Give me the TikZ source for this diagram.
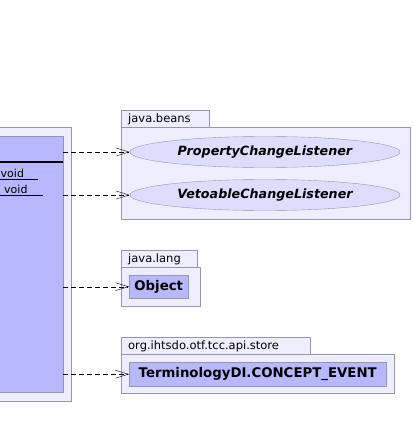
\documentclass[tikz,border=0pt]{standalone}
\usepackage{fontspec}
\setmainfont{DejaVu Sans}
\usepackage{tikz}
\usetikzlibrary{arrows.meta,positioning,shapes.geometric}
\definecolor{pkgfill}{RGB}{238,238,255}
\definecolor{clsfill}{RGB}{184,184,255}
\definecolor{ifcfill}{RGB}{221,221,255}
\definecolor{umlline}{RGB}{150,150,170}
\tikzset{
  pkgbody/.style={
    rectangle,
    draw=umlline,
    fill=pkgfill,
    anchor=north west,
    inner sep=0pt
  },
  pkgtab/.style={
    pkgbody,
    anchor=south west,
    minimum height=17,
    align=left,
    font=\fontsize{11.5}{13}\selectfont,
    text depth=0pt
  },
  umlclass/.style={
    rectangle,
    draw=umlline,
    fill=clsfill,
    inner sep=0pt,
    font=\bfseries\fontsize{13.3}{15}\selectfont
  },
  umliface/.style={
    ellipse,
    draw=umlline,
    fill=ifcfill,
    minimum width=270,
    minimum height=31,
    inner sep=0pt,
    font=\bfseries\itshape\fontsize{12.7}{14}\selectfont
  },
  member/.style={
    anchor=base west,
    inner sep=0pt,
    font=\fontsize{11}{13}\selectfont
  },
  depends/.style={
    dashed,
    dash pattern=on 5pt off 3pt,
    -{Straight Barb[length=13pt,width=8pt]}
  }
}

\begin{document}
\begin{tikzpicture}[x=1pt,y=-1pt]
  % page size of the reference
  \useasboundingbox (0,0) rectangle (413,439);

  % class, cut off at the left border
  \node[pkgbody, minimum width=91, minimum height=274] (clsframe) at (-20,127) {};
  \node[umlclass, anchor=north west, minimum width=83, minimum height=256] (cls) at (-20,136) {};
  \draw[line width=1.6pt] (0,162) -- (cls.east |- 0,162);
  \node[member] (m1) at (0.5,177) {void};
  \draw (0,179.5) -- (38,179.5);
  \node[member] (m2) at (4,193) {void};
  \draw (0,195.5) -- (42.5,195.5);

  % java.beans
  \node[pkgbody, minimum width=289, minimum height=92] (beans) at (121,127) {};
  \node[pkgtab, text width=88] (beanstab) at (beans.north west) {\hspace*{7pt}java.beans};
  \node[umliface] (pcl) at (265,152) {PropertyChangeListener};
  \node[umliface] (vcl) at (265,195) {VetoableChangeListener};

  % java.lang
  \node[pkgbody, minimum width=79, minimum height=39] (lang) at (121,267) {};
  \node[pkgtab, text width=76] (langtab) at (lang.north west) {\hspace*{7pt}java.lang};
  \node[umlclass, anchor=north west, minimum width=59, minimum height=23] (obj) at (129,275) {Object};

  % org.ihtsdo.otf.tcc.api.store
  \node[pkgbody, minimum width=273, minimum height=39] (store) at (121,354) {};
  \node[pkgtab, text width=189] (storetab) at (store.north west) {\hspace*{7pt}org.ihtsdo.otf.tcc.api.store};
  \node[umlclass, anchor=north west, minimum width=257, minimum height=24] (evt) at (129,362) {TerminologyDI.CONCEPT\_EVENT};

  % dependencies
  \draw[depends] (cls.east |- pcl) -- (pcl.west);
  \draw[depends] (cls.east |- vcl) -- (vcl.west);
  \draw[depends] (cls.east |- obj) -- (obj.west);
  \draw[depends] (cls.east |- evt) -- (evt.west);
\end{tikzpicture}
\end{document}
